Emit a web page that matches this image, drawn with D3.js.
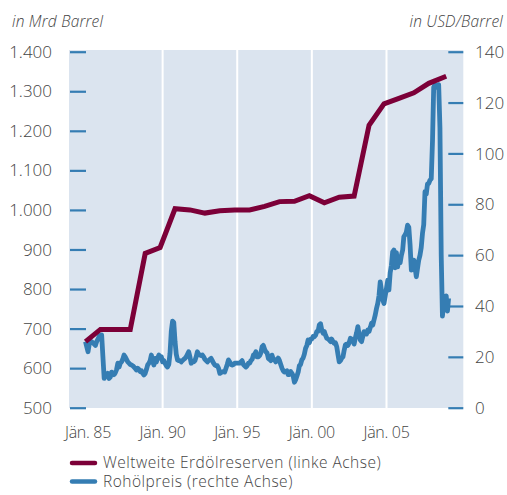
<!DOCTYPE html>
<html><head><meta charset="utf-8">
<script src="https://cdn.jsdelivr.net/npm/d3@7"></script>
<style>
body{margin:0;background:#fff}
svg{display:block}
text{font-family:"Open Sans",Lato,sans-serif;font-weight:300;fill:#444}
</style>
</head><body>
<svg id="chart" width="507" height="495"></svg>
<script>
// ---------- data ----------
const leftTicks = [500, 600, 700, 800, 900, 1000, 1100, 1200, 1300, 1400];
const rightTicks = [0, 20, 40, 60, 80, 100, 120, 140];
const xTickYears = [1985, 1990, 1995, 2000, 2005];
const xTickLabels = ["Jän. 85", "Jän. 90", "Jän. 95", "Jän. 00", "Jän. 05"];
const gridYears = [1990, 1995, 2000, 2005];
const leftUnit = "in Mrd Barrel";
const rightUnit = "in USD/Barrel";
const seriesNames = ["Weltweite Erdölreserven (linke Achse)", "Rohölpreis (rechte Achse)"];

// world oil reserves (bn barrels), left axis
const reserveDates = ["1984-11","1985-11","1986-11","1987-11","1988-11","1989-11","1990-11","1991-11",
  "1992-11","1993-11","1994-11","1995-11","1996-11","1997-11","1998-11","1999-11","2000-11","2001-11",
  "2002-11","2003-11","2004-11","2005-11","2006-11","2007-11","2009-01"];
const reserveValues = [667, 698, 698, 698, 890, 905, 1003, 1000,
  992, 998, 1000, 1000, 1009, 1021, 1022, 1036, 1018, 1032,
  1035, 1214, 1268, 1282, 1296, 1320, 1338];

// crude oil price (USD/barrel), monthly from priceStart, right axis
const priceStart = "1984-11";
const priceValues = [
  26, 24,
  22, 25, 26, 26, 25.5, 25, 24.5, 26, 27, 28, 28.5, 28.6,
  20, 11.5, 13, 12.8, 13.5, 11.5, 12, 14, 13.5, 13, 13.8, 15,
  17.5, 16, 17.5, 18, 19, 20.7, 20, 19, 18, 17.5, 17, 16.8,
  16.5, 16, 15.5, 14.8, 15.5, 15, 14.2, 14.5, 13.5, 12.9, 13.5, 15,
  16.8, 17.5, 18.5, 20.7, 18.5, 16.8, 19.4, 18, 19.5, 20.7, 19.5, 20,
  18, 18.5, 17.5, 16.5, 16, 17, 21.4, 30, 34, 33.5, 26, 21,
  18.8, 18.5, 18.5, 18, 18.5, 19, 19.4, 20, 21, 22, 20, 17.5,
  18, 18, 18.5, 20, 22, 21, 20.7, 20.5, 20.7, 20, 19, 18.5,
  18, 18.5, 19, 19.4, 18.5, 17.5, 16.8, 16.5, 16.5, 15.5, 13.5, 13.8,
  14, 14.2, 14, 15.5, 17, 18.8, 18, 17, 16.8, 17, 17.5, 17.5,
  17.5, 17.5, 17.5, 18, 18.5, 17, 16.5, 16, 16.5, 17.5, 17.5, 18.5,
  19, 20.7, 21, 22, 20, 20, 20.5, 21.5, 24, 24.5, 23, 22,
  21.5, 19.4, 19, 18.5, 20.7, 19, 19, 18, 18.5, 19.5, 18.5, 17,
  15.5, 14.5, 14, 14.2, 14.5, 13, 13, 14.2, 13.5, 12.5, 10, 11,
  12.5, 14, 16.5, 17, 18.8, 19.5, 21, 23.4, 24.5, 26.6, 25.5, 27,
  27, 28, 27.9, 28.5, 30, 30, 32.5, 33, 30.5, 29.3, 30, 28.5,
  27.3, 27, 26.6, 26, 27, 26, 25.3, 25.5, 24, 21, 18, 18.5,
  19.5, 20, 22.5, 24.7, 25, 24.5, 25.5, 27.3, 27, 26.6, 25, 27.5,
  29.5, 31.9, 29, 26.6, 26, 28, 29.9, 29.5, 29, 30.6, 30, 31.5,
  33.2, 32.5, 34.5, 36.5, 39, 41, 44, 49.5, 46, 42.4, 41, 44,
  47, 50.2, 46.3, 53, 56, 61.3, 62, 55, 61, 55.4, 58.7, 57,
  60, 62, 67.2, 68, 69, 71.8, 71, 64, 54.1, 57, 58, 55,
  51.5, 55, 58, 60, 63, 68.6, 72, 85, 84, 88, 88.2, 89.5,
  90, 105, 126, 127, 126, 126, 127, 110, 60, 36, 42, 40,
  44, 38, 43
];

// ---------- layout ----------
const svg = d3.select("#chart");
const plot = {left: 69, right: 463.3, top: 50, bottom: 408};
const parseMonth = d3.timeParse("%Y-%m");

const x = d3.scaleTime()
  .domain([new Date(1985, 0, 1), new Date(2005, 0, 1)])
  .range([88, 386.5]);
const yL = d3.scaleLinear().domain([500, 1400]).range([407.7, 51.7]);
const yR = d3.scaleLinear().domain([0, 140]).range([407.7, 51.7]);

const deLocale = d3.formatLocale({decimal: ",", thousands: ".", grouping: [3], currency: ["", " €"]});
const fmtL = deLocale.format(",");

const BLUE = "#357db3", RED = "#7c0038";

// background
svg.append("rect").attr("x", plot.left).attr("y", plot.top)
  .attr("width", plot.right - plot.left).attr("height", plot.bottom - plot.top)
  .attr("fill", "#dbe4ef");

// vertical gridlines
svg.append("g").selectAll("line").data(gridYears).join("line")
  .attr("x1", d => x(new Date(d, 0, 1))).attr("x2", d => x(new Date(d, 0, 1)))
  .attr("y1", plot.top).attr("y2", plot.bottom)
  .attr("stroke", "#fff").attr("stroke-width", 2);

// left axis
const axL = d3.axisRight(yL).tickValues(leftTicks).tickSize(16).tickFormat("");
const gL = svg.append("g").attr("transform", `translate(${plot.left + 1},0)`).call(axL);
gL.select(".domain").remove();
gL.selectAll(".tick line").attr("stroke", BLUE).attr("stroke-width", 2.2);
svg.append("g").selectAll("text").data(leftTicks).join("text")
  .attr("x", 52).attr("y", d => yL(d)).attr("dy", "0.36em")
  .attr("text-anchor", "end").attr("font-size", 17).text(d => fmtL(d));

// right axis
const axR = d3.axisLeft(yR).tickValues(rightTicks).tickSize(15).tickFormat("");
const gR = svg.append("g").attr("transform", `translate(${plot.right},0)`).call(axR);
gR.select(".domain").remove();
gR.selectAll(".tick line").attr("stroke", BLUE).attr("stroke-width", 2.2);
svg.append("g").selectAll("text").data(rightTicks).join("text")
  .attr("x", 475).attr("y", d => yR(d)).attr("dy", "0.36em")
  .attr("text-anchor", "start").attr("font-size", 17).text(d => d);

// x labels
svg.append("g").selectAll("text").data(xTickYears).join("text")
  .attr("x", (d) => x(new Date(d, 0, 1))).attr("y", 438)
  .attr("text-anchor", "middle").attr("font-size", 16).attr("letter-spacing", -0.3)
  .text((d, i) => xTickLabels[i]);

// unit labels
svg.append("text").attr("x", 12).attr("y", 27).attr("font-size", 15.5)
  .attr("letter-spacing", 0.2).attr("font-style", "italic").text(leftUnit);
svg.append("text").attr("x", 503).attr("y", 27).attr("font-size", 15.5)
  .attr("letter-spacing", 0.2).attr("font-style", "italic").attr("text-anchor", "end").text(rightUnit);

// price line
const start = parseMonth(priceStart);
const priceData = priceValues.map((v, i) => ({date: d3.timeMonth.offset(start, i), value: v}));
svg.append("path").datum(priceData)
  .attr("fill", "none").attr("stroke", BLUE).attr("stroke-width", 4.8)
  .attr("stroke-linejoin", "round")
  .attr("d", d3.line().x(d => x(d.date)).y(d => yR(d.value)));

// reserves line
const resData = reserveDates.map((d, i) => ({date: parseMonth(d), value: reserveValues[i]}));
svg.append("path").datum(resData)
  .attr("fill", "none").attr("stroke", RED).attr("stroke-width", 5)
  .attr("stroke-linejoin", "miter")
  .attr("d", d3.line().x(d => x(d.date)).y(d => yL(d.value)));

// legend
const legend = svg.append("g");
const legColors = [RED, BLUE];
const legY = [463, 481.5];
seriesNames.forEach((name, i) => {
  legend.append("line").attr("x1", 72).attr("x2", 95).attr("y1", legY[i]).attr("y2", legY[i])
    .attr("stroke", legColors[i]).attr("stroke-width", 4.5).attr("stroke-linecap", "round");
  legend.append("text").attr("x", 103).attr("y", legY[i] + 5.3)
    .attr("font-size", 15.5).attr("letter-spacing", 0.5).text(name);
});
</script>
</body></html>
